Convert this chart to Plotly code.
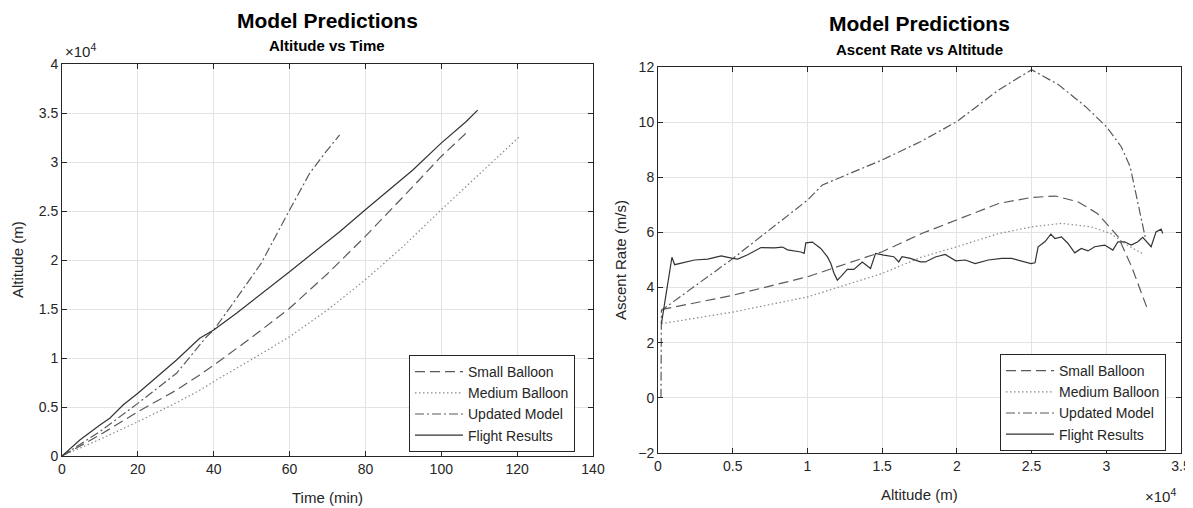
import plotly.graph_objects as go

# ---------------- Left chart: Altitude vs Time ----------------
small_t = [0, 10, 20, 30.2, 36.3, 40.7, 50, 60, 70, 79.9, 92.5, 99.9, 106.5]
small_alt = [0, 2150, 4520, 6730, 8270, 9460, 12100, 15070, 18600, 22380, 27480, 30540, 32930]

medium_t = [0, 10, 20, 30, 36.3, 40.7, 50, 60, 70, 79.9, 90, 99.9, 112.6, 120.8]
medium_alt = [0, 1700, 3500, 5400, 6700, 7760, 9850, 12170, 14900, 17960, 21400, 25100, 29690, 32650]

updated_t = [0, 10, 20, 30.2, 38.1, 40, 45.1, 52.5, 60, 65.3, 69.5, 73.2]
updated_alt = [0, 2500, 5370, 8440, 12170, 12860, 15580, 19660, 25100, 28850, 31000, 32760]

flight_t = [0, 4.7, 10, 12.6, 16.1, 20, 30.2, 36.3, 40, 46, 60, 73.2, 79.9, 92.5, 99.9, 106.5, 109.6]
flight_alt = [0, 1630, 3160, 3850, 5200, 6400, 9800, 12010, 12860, 14560, 18810, 22890, 25100, 29180, 31900, 34110, 35300]

# ---------------- Right chart: Ascent Rate vs Altitude ----------------
small_h = [227, 5000, 10000, 15000, 17600, 20000, 22800, 25000, 26600, 28100, 29400, 30800, 31700, 32700]
small_rate = [3.2, 3.72, 4.39, 5.3, 5.95, 6.47, 7.05, 7.27, 7.32, 7.11, 6.69, 5.84, 4.75, 3.3]

medium_h = [227, 5000, 10000, 15000, 17600, 20000, 22800, 25000, 27000, 29000, 30300, 31400, 32400]
medium_rate = [2.69, 3.11, 3.66, 4.51, 5.1, 5.48, 5.96, 6.2, 6.33, 6.2, 5.96, 5.54, 5.24]

updated_h = [200, 227, 5000, 10000, 11000, 15000, 17600, 20000, 22800, 25000, 26800, 28600, 30000,
             31000, 31600, 32100, 32600]
updated_rate = [0.0, 3.17, 5.05, 7.17, 7.72, 8.63, 9.3, 10.02, 11.17, 11.9, 11.36, 10.57, 9.84,
                9.11, 8.38, 7.05, 5.84]

flight_h = [230, 933, 1113, 1560, 2447, 3333, 4227, 5000, 5333, 6000, 6893, 7780, 8333, 8667, 9560,
            9780, 9893, 10330, 10890, 11330, 11560, 11780, 12000, 12220, 12670, 13110, 13670, 14220,
            14560, 15110, 15780, 16110, 16330, 16890, 17560, 17890, 18560, 19220, 19930, 20560,
            21220, 22110, 23000, 23670, 24110, 24560, 24960, 25230, 25440, 25890, 26290, 26560,
            27000, 27440, 27890, 28330, 28780, 29220, 29890, 30440, 30780, 31220, 31670, 32110,
            32440, 33000, 33330, 33670, 33780]
flight_rate = [2.7, 5.1, 4.83, 4.89, 5.0, 5.03, 5.15, 5.06, 5.03, 5.19, 5.45, 5.44, 5.47, 5.37, 5.29,
               5.24, 5.62, 5.65, 5.42, 5.12, 4.88, 4.52, 4.27, 4.39, 4.66, 4.66, 4.93, 4.69,
               5.24, 5.18, 5.12, 4.93, 5.12, 5.06, 4.93, 4.93, 5.11, 5.2, 4.97, 5.0,
               4.87, 5.0, 5.06, 5.06, 5.0, 4.93, 4.87, 4.9, 5.48, 5.66, 5.94, 5.78,
               5.84, 5.6, 5.26, 5.42, 5.33, 5.48, 5.54, 5.36, 5.66, 5.66, 5.54, 5.66,
               5.82, 5.48, 6.02, 6.12, 5.96]

left_xticks = [0, 20, 40, 60, 80, 100, 120, 140]
left_yticks = [0, 5000, 10000, 15000, 20000, 25000, 30000, 35000, 40000]
left_yticktext = ["0", "0.5", "1", "1.5", "2", "2.5", "3", "3.5", "4"]
right_xticks = [0, 5000, 10000, 15000, 20000, 25000, 30000, 35000]
right_xticktext = ["0", "0.5", "1", "1.5", "2", "2.5", "3", "3.5"]
right_yticks = [-2, 0, 2, 4, 6, 8, 10, 12]

names = ["Small Balloon", "Medium Balloon", "Updated Model", "Flight Results"]
styles = [
    dict(color="#5a5a5a", width=1.2, dash="10px,5px"),
    dict(color="#8a8a8a", width=1.2, dash="1.5px,2.5px"),
    dict(color="#5a5a5a", width=1.2, dash="9px,3px,2px,3px"),
    dict(color="#333333", width=1.2, dash="solid"),
]

fig = go.Figure()
left_data = [(small_t, small_alt), (medium_t, medium_alt), (updated_t, updated_alt), (flight_t, flight_alt)]
right_data = [(small_h, small_rate), (medium_h, medium_rate), (updated_h, updated_rate), (flight_h, flight_rate)]

for (x, y), n, s in zip(left_data, names, styles):
    fig.add_trace(go.Scatter(x=x, y=y, mode="lines", name=n, line=s,
                             xaxis="x", yaxis="y", legend="legend"))
for (x, y), n, s in zip(right_data, names, styles):
    fig.add_trace(go.Scatter(x=x, y=y, mode="lines", name=n, line=s,
                             xaxis="x2", yaxis="y2", legend="legend2"))

# the page body has an 8px margin: lay out in screen pixels, offset by 8
OFF = 8
W, H = 1193 - OFF, 508 - OFF
def px(x):
    return (x - OFF) / W
def py(y):
    return 1 - (y - OFF) / H

font_fam = "Liberation Sans, Arial"
axis_common = dict(
    showline=True, linecolor="#262626", linewidth=1, mirror="ticks",
    ticks="inside", ticklen=5, tickcolor="#262626", automargin=False,
    showgrid=True, gridcolor="#e3e3e3", gridwidth=1, zeroline=False,
    tickfont=dict(family=font_fam, size=14, color="#262626"),
)

legend_common = dict(
    bgcolor="white", bordercolor="#262626", borderwidth=1,
    font=dict(family=font_fam, size=14, color="#262626"),
    xanchor="left", yanchor="top", itemwidth=48, tracegroupgap=0,
    itemclick=False,
)

fig.update_layout(
    width=W, height=H,
    margin=dict(l=0, r=0, t=0, b=0, autoexpand=False),
    paper_bgcolor="white", plot_bgcolor="white",
    font=dict(family=font_fam, color="#262626"),
    xaxis=dict(domain=[px(62), px(593)], range=[0, 140], tickvals=left_xticks,
               anchor="y", **axis_common),
    yaxis=dict(domain=[py(456), py(64)], range=[0, 40000], tickvals=left_yticks,
               ticktext=left_yticktext, anchor="x", **axis_common),
    xaxis2=dict(domain=[px(658), px(1181)], range=[0, 35000], tickvals=right_xticks,
                ticktext=right_xticktext, anchor="y2", **axis_common),
    yaxis2=dict(domain=[py(453), py(67)], range=[-2, 12], tickvals=right_yticks,
                anchor="x2", **axis_common),
    legend=dict(x=px(409), y=py(355), **legend_common),
    legend2=dict(x=px(1000), y=py(354), **legend_common),
    showlegend=True,
)

def ann(text, x, y, size, bold=False, angle=0, xanchor="center", yanchor="middle"):
    t = f"<b>{text}</b>" if bold else text
    fig.add_annotation(text=t, x=x, y=y, xref="paper", yref="paper", showarrow=False,
                       textangle=angle, xanchor=xanchor, yanchor=yanchor,
                       font=dict(family=font_fam, size=size, color="#000000" if bold else "#262626"))

ann("Model Predictions", px(327), py(20), 21, bold=True)
ann("Altitude vs Time", px(327), py(46), 15, bold=True)
ann("Model Predictions", px(919), py(23), 21, bold=True)
ann("Ascent Rate vs Altitude", px(919), py(50), 15, bold=True)
ann("Time (min)", px(327), py(497), 15)
ann("Altitude (m)", px(17), py(260), 15, angle=-90)
ann("Ascent Rate (m/s)", px(620), py(260), 15, angle=-90)
ann("Altitude (m)", px(919), py(494), 15)
ann("×10<sup>4</sup>", px(63), py(51), 15, xanchor="left")
ann("×10<sup>4</sup>", px(1178), py(495), 15, xanchor="right")

fig.write_html("out.html")
